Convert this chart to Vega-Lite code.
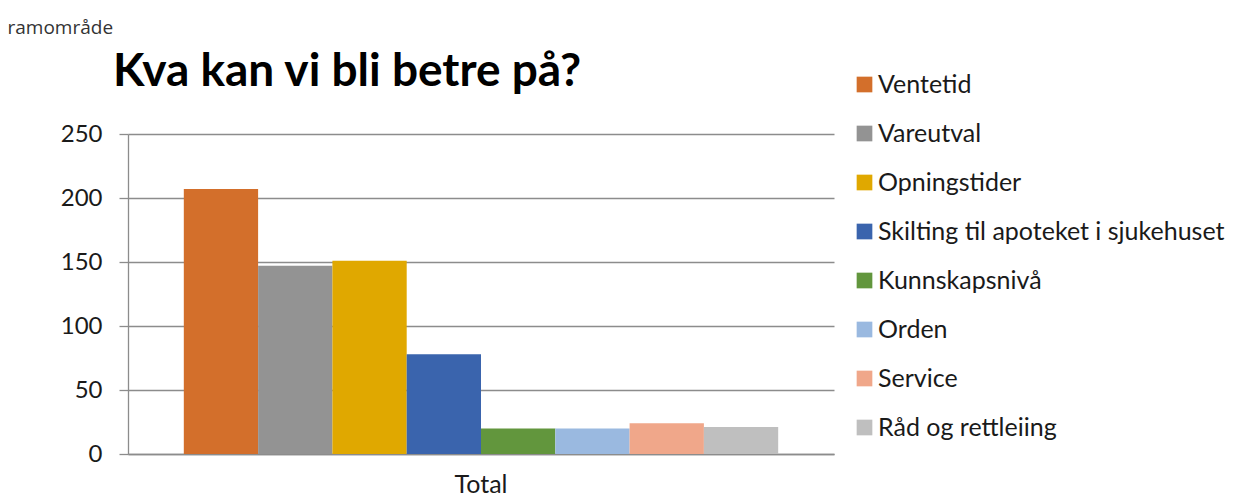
{
  "$schema": "https://vega.github.io/schema/vega-lite/v6.json",
  "width": 706,
  "height": 320,
  "autosize": {"type": "none"},
  "padding": {"left": 128, "top": 134, "right": 413, "bottom": 43},
  "background": "white",
  "title": {
    "text": "Kva kan vi bli betre på?",
    "anchor": "start",
    "frame": "group",
    "font": "Lato",
    "fontSize": 46,
    "fontWeight": "bold",
    "color": "#000000",
    "baseline": "alphabetic",
    "dx": -15,
    "offset": 0,
    "dy": 114
  },
  "data": {
    "values": [
      {"kategori": "Total", "svar": "Ventetid", "antal": 207},
      {"kategori": "Total", "svar": "Vareutval", "antal": 147},
      {"kategori": "Total", "svar": "Opningstider", "antal": 151},
      {"kategori": "Total", "svar": "Skilting til apoteket i sjukehuset", "antal": 78},
      {"kategori": "Total", "svar": "Kunnskapsnivå", "antal": 20},
      {"kategori": "Total", "svar": "Orden", "antal": 20},
      {"kategori": "Total", "svar": "Service", "antal": 24},
      {"kategori": "Total", "svar": "Råd og rettleiing", "antal": 21}
    ]
  },
  "mark": {"type": "bar"},
  "encoding": {
    "x": {
      "field": "kategori",
      "type": "nominal",
      "scale": {"paddingInner": 0, "paddingOuter": 0.0939},
      "axis": {
        "title": null,
        "labelAngle": 0,
        "labelFont": "Lato",
        "labelFontSize": 25,
        "labelColor": "#1a1a1a",
        "labelPadding": 38,
        "labelBaseline": "alphabetic",
        "ticks": false,
        "domainColor": "#8c8c8c",
        "domainWidth": 1.3
      }
    },
    "xOffset": {
      "field": "svar",
      "sort": ["Ventetid", "Vareutval", "Opningstider", "Skilting til apoteket i sjukehuset", "Kunnskapsnivå", "Orden", "Service", "Råd og rettleiing"],
      "scale": {"paddingInner": 0, "paddingOuter": 0}
    },
    "y": {
      "field": "antal",
      "type": "quantitative",
      "scale": {"domain": [0, 250], "nice": false},
      "axis": {
        "title": "ramområde",
        "titleAngle": 0,
        "titleX": -121,
        "titleY": -101,
        "titleAlign": "left",
        "titleBaseline": "alphabetic",
        "titleFont": "Open Sans",
        "titleFontSize": 19,
        "titleFontWeight": "normal",
        "titleColor": "#333333",
        "values": [0, 50, 100, 150, 200, 250],
        "labelFont": "Lato",
        "labelFontSize": 24,
        "labelColor": "#1a1a1a",
        "labelPadding": 17,
        "tickSize": 9,
        "tickColor": "#8c8c8c",
        "tickWidth": 1.3,
        "domainColor": "#8c8c8c",
        "domainWidth": 1.3,
        "gridColor": "#8c8c8c",
        "gridWidth": 1.3
      }
    },
    "color": {
      "field": "svar",
      "type": "nominal",
      "scale": {
        "domain": ["Ventetid", "Vareutval", "Opningstider", "Skilting til apoteket i sjukehuset", "Kunnskapsnivå", "Orden", "Service", "Råd og rettleiing"],
        "range": ["#D36F2B", "#939393", "#E0A800", "#3A64AD", "#62963D", "#9AB9E0", "#F0A78A", "#BFBFBF"]
      },
      "legend": {
        "title": null,
        "orient": "none",
        "legendX": 724,
        "legendY": -62,
        "symbolType": "square",
        "symbolSize": 246,
        "symbolStrokeWidth": 0,
        "labelFont": "Lato",
        "labelFontSize": 25,
        "labelColor": "#1a1a1a",
        "labelOffset": 1,
        "rowPadding": 23,
        "padding": 0,
        "labelLimit": 500
      }
    }
  },
  "config": {"view": {"stroke": null}}
}
